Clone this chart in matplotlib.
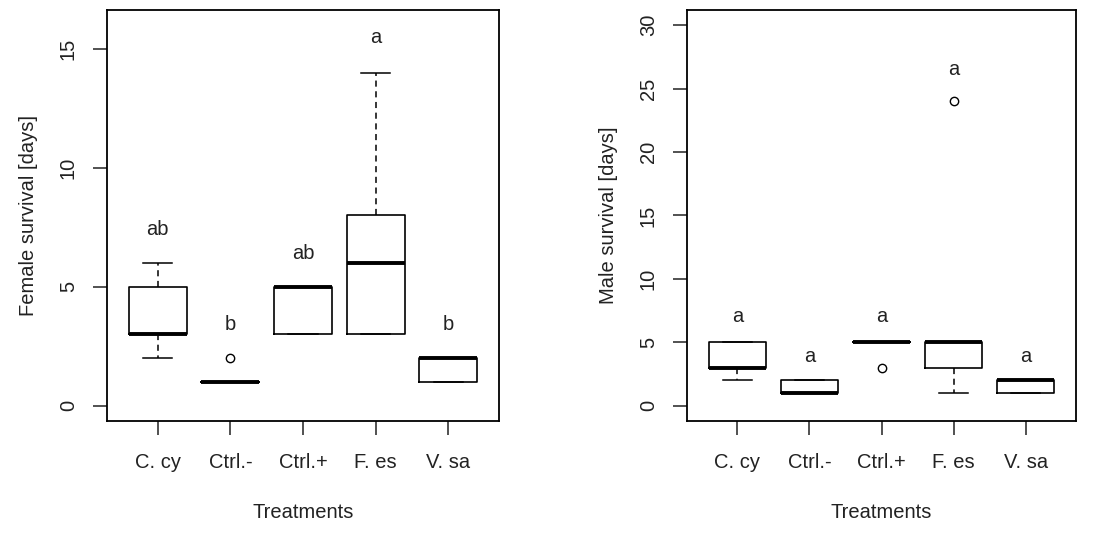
import numpy as np
import matplotlib.pyplot as plt

plt.rcParams['font.family'] = ['Liberation Sans', 'DejaVu Sans']

treatments = ['C. cy', 'Ctrl.-', 'Ctrl.+', 'F. es', 'V. sa']

# box summaries: lower whisker, q1, median, q3, upper whisker, outliers
female_whislo = [2, 1, 3, 3, 1]
female_q1 = [3, 1, 3, 3, 1]
female_med = [3, 1, 5, 6, 2]
female_q3 = [5, 1, 5, 8, 2]
female_whishi = [6, 1, 5, 14, 2]
female_out = [[], [2], [], [], []]
female_letters = ['ab', 'b', 'ab', 'a', 'b']
female_letter_y = [7.4, 3.4, 6.4, 15.5, 3.4]

male_whislo = [2, 1, 5, 1, 1]
male_q1 = [3, 1, 5, 3, 1]
male_med = [3, 1, 5, 5, 2]
male_q3 = [5, 2, 5, 5, 2]
male_whishi = [5, 2, 5, 5, 2]
male_out = [[], [], [3], [24], []]
male_letters = ['a', 'a', 'a', 'a', 'a']
male_letter_y = [7.0, 3.9, 7.0, 26.5, 3.9]

TXT = '#222222'


def make_stats(lo, q1, med, q3, hi, out):
    return [dict(whislo=a, q1=b, med=c, q3=d, whishi=e, fliers=f)
            for a, b, c, d, e, f in zip(lo, q1, med, q3, hi, out)]


def draw_panel(ax, stats, letters, letter_y, ymax, yticks, ylabel):
    pos = np.arange(1, len(stats) + 1)
    ax.bxp(stats, positions=pos, widths=0.8, capwidths=0.4, showfliers=True,
           boxprops=dict(color='black', linewidth=1.2),
           medianprops=dict(color='black', linewidth=2.8, solid_capstyle='butt'),
           whiskerprops=dict(color='black', linewidth=1.1, linestyle=(0, (4, 3))),
           capprops=dict(color='black', linewidth=1.1),
           flierprops=dict(marker='o', markerfacecolor='none', markeredgecolor='black',
                           markersize=6, markeredgewidth=1.0))
    for x, t, y in zip(pos, letters, letter_y):
        ax.text(x, y, t, ha='center', va='center', fontsize=14.5, color=TXT)
    ax.set_xlim(0.3, 5.7)
    pad = ymax * 0.04
    ax.set_ylim(-pad, ymax + pad)
    ax.set_yticks(yticks)
    ax.set_yticklabels([str(v) for v in yticks], rotation=90, va='center')
    ax.set_xticks(pos)
    ax.set_xticklabels(treatments)
    ax.tick_params(axis='both', labelsize=14.5, length=10, width=1.1, colors=TXT)
    ax.tick_params(axis='y', pad=11)
    ax.tick_params(axis='x', pad=13)
    for sp in ax.spines.values():
        sp.set_linewidth(1.3)
    ax.set_xlabel('Treatments', fontsize=14.5, color=TXT, labelpad=22)
    ax.set_ylabel(ylabel, fontsize=14.5, color=TXT, labelpad=15)


fig = plt.figure(figsize=(11.08, 5.52), dpi=100)
ax1 = fig.add_axes([107 / 1108, 1 - 421 / 552, 392 / 1108, 411 / 552])
ax2 = fig.add_axes([687 / 1108, 1 - 421 / 552, 389 / 1108, 411 / 552])

draw_panel(ax1, make_stats(female_whislo, female_q1, female_med, female_q3, female_whishi, female_out),
           female_letters, female_letter_y, 16, [0, 5, 10, 15], 'Female survival [days]')
draw_panel(ax2, make_stats(male_whislo, male_q1, male_med, male_q3, male_whishi, male_out),
           male_letters, male_letter_y, 30, [0, 5, 10, 15, 20, 25, 30], 'Male survival [days]')

fig.savefig('out.png', dpi=100)
